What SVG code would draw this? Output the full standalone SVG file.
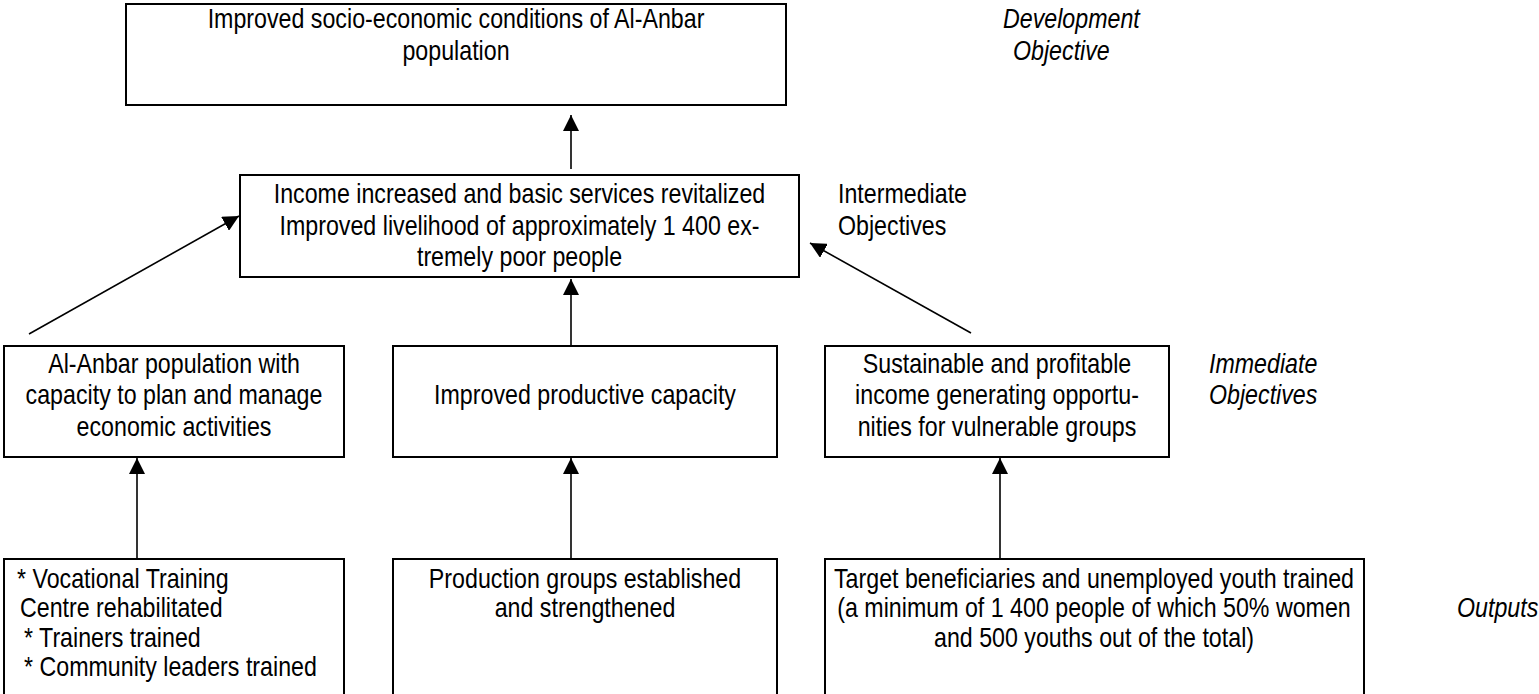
<svg xmlns="http://www.w3.org/2000/svg" width="1539" height="694" viewBox="0 0 1539 694">
<style>
.box{fill:#fff;stroke:#000;stroke-width:2}
text{font-family:"Liberation Sans",Arial,sans-serif;font-size:27px;fill:#000}
.c{text-anchor:middle}
.i{font-style:italic}
.conn{stroke:#000;stroke-width:1.6;fill:none;marker-end:url(#ah)}
</style>
<defs>
<marker id="ah" viewBox="0 0 10 10" refX="10" refY="5" markerWidth="16" markerHeight="16" markerUnits="userSpaceOnUse" orient="auto">
<path d="M0,0 L10,5 L0,10 z" fill="#000"/>
</marker>
</defs>
<rect width="1539" height="694" fill="#fff"/>
<g id="connectors">
<line class="conn" x1="571" y1="169" x2="571" y2="115"/>
<line class="conn" x1="29" y1="334" x2="239" y2="216"/>
<line class="conn" x1="971" y1="333" x2="810" y2="243"/>
<line class="conn" x1="571" y1="345" x2="571" y2="279"/>
<line class="conn" x1="137" y1="559" x2="137" y2="458"/>
<line class="conn" x1="571" y1="559" x2="571" y2="458"/>
<line class="conn" x1="1000" y1="559" x2="1000" y2="458"/>
</g>
<g id="dev">
<rect class="box" x="126" y="4" width="660" height="101"/>
<text class="c" transform="translate(456,28) scale(.86,1)">Improved socio-economic conditions of Al-Anbar</text>
<text class="c" transform="translate(456,60) scale(.86,1)">population</text>
</g>
<g id="dev-label">
<text class="i" transform="translate(1003,28) scale(.86,1)">Development</text>
<text class="i" transform="translate(1013,60) scale(.86,1)">Objective</text>
</g>
<g id="inter">
<rect class="box" x="240" y="175" width="559" height="102"/>
<text class="c" transform="translate(519.5,203) scale(.86,1)">Income increased and basic services revitalized</text>
<text class="c" transform="translate(519.5,235) scale(.86,1)">Improved livelihood of approximately 1 400 ex-</text>
<text class="c" transform="translate(519.5,266) scale(.86,1)">tremely poor people</text>
</g>
<g id="inter-label">
<text transform="translate(838,203) scale(.86,1)">Intermediate</text>
<text transform="translate(838,235) scale(.86,1)">Objectives</text>
</g>
<g id="imm1">
<rect class="box" x="4" y="346" width="340" height="111"/>
<text class="c" transform="translate(174,373) scale(.86,1)">Al-Anbar population with</text>
<text class="c" transform="translate(174,404) scale(.86,1)">capacity to plan and manage</text>
<text class="c" transform="translate(174,436) scale(.86,1)">economic activities</text>
</g>
<g id="imm2">
<rect class="box" x="393" y="346" width="384" height="111"/>
<text class="c" transform="translate(585,404) scale(.86,1)">Improved productive capacity</text>
</g>
<g id="imm3">
<rect class="box" x="825" y="346" width="344" height="111"/>
<text class="c" transform="translate(997,373) scale(.86,1)">Sustainable and profitable</text>
<text class="c" transform="translate(997,404) scale(.86,1)">income  generating opportu-</text>
<text class="c" transform="translate(997,436) scale(.86,1)">nities for vulnerable groups</text>
</g>
<g id="imm-label">
<text class="i" transform="translate(1209,373) scale(.86,1)">Immediate</text>
<text class="i" transform="translate(1209,404) scale(.86,1)">Objectives</text>
</g>
<g id="out1">
<rect class="box" x="4" y="559" width="340" height="150"/>
<text transform="translate(17,588) scale(.86,1)">* Vocational Training</text>
<text transform="translate(20,617) scale(.86,1)">Centre rehabilitated</text>
<text transform="translate(24,647) scale(.86,1)">* Trainers trained</text>
<text transform="translate(24,676) scale(.86,1)">* Community leaders trained</text>
</g>
<g id="out2">
<rect class="box" x="393" y="559" width="384" height="150"/>
<text class="c" transform="translate(585,588) scale(.86,1)">Production groups established</text>
<text class="c" transform="translate(585,617) scale(.86,1)">and strengthened</text>
</g>
<g id="out3">
<rect class="box" x="825" y="559" width="539" height="150"/>
<text class="c" transform="translate(1094,588) scale(.86,1)">Target beneficiaries and unemployed youth trained</text>
<text class="c" transform="translate(1094,617) scale(.86,1)">(a minimum of 1 400 people of which 50% women</text>
<text class="c" transform="translate(1094,647) scale(.86,1)">and 500 youths out of the total)</text>
</g>
<g id="out-label">
<text class="i" transform="translate(1457,617) scale(.86,1)">Outputs</text>
</g>
</svg>
